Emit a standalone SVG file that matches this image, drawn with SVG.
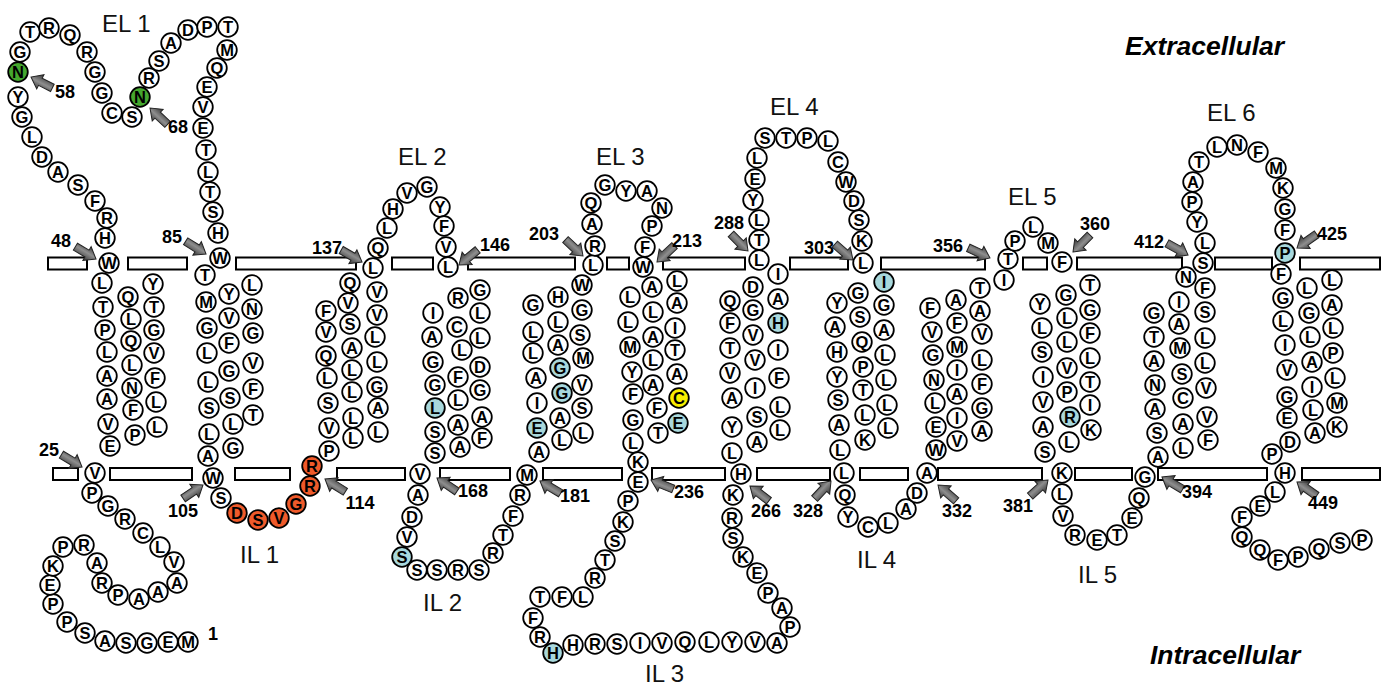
<svg xmlns="http://www.w3.org/2000/svg" xmlns:xlink="http://www.w3.org/1999/xlink" width="1382" height="685" viewBox="0 0 1382 685">
<style>
.r circle{fill:#fff;stroke:#000;stroke-width:1.8}
.r text{font-family:"Liberation Sans",Arial,sans-serif;font-weight:bold;font-size:16.5px;text-anchor:middle;fill:#000}
.gr circle{fill:#45a82e}
.or circle{fill:#ef5a2a}
.bl circle{fill:#a8d8dc}
.ye circle{fill:#f7ee00}
.bar{fill:#fff;stroke:#000;stroke-width:2}
.num{font-family:"Liberation Sans",Arial,sans-serif;font-weight:bold;font-size:18px;text-anchor:middle;fill:#000}
.lbl{font-family:"Liberation Sans",Arial,sans-serif;font-size:24px;fill:#111}
.side{font-family:"Liberation Sans",Arial,sans-serif;font-weight:bold;font-style:italic;font-size:26.5px;fill:#000}
.ptr{fill:url(#ag);stroke:#222;stroke-width:1}
</style>
<defs>
<linearGradient id="ag" x1="0" y1="0" x2="0" y2="1">
<stop offset="0" stop-color="#3e3e3e"/><stop offset="0.45" stop-color="#8e8e8e"/><stop offset="1" stop-color="#333"/>
</linearGradient>
<path id="ar" class="ptr" d="M0,0 L-10.5,-8 L-10.5,-4 L-24,-4 L-24,4 L-10.5,4 L-10.5,8 Z"/>
</defs>
<rect width="1382" height="685" fill="#fff"/>
<g id="membrane">
<rect class="bar" x="48" y="257.5" width="39" height="12"/>
<rect class="bar" x="128" y="257.5" width="59" height="12"/>
<rect class="bar" x="236" y="257.5" width="120" height="12"/>
<rect class="bar" x="392" y="257.5" width="41" height="12"/>
<rect class="bar" x="468" y="257.5" width="107" height="12"/>
<rect class="bar" x="607" y="257.5" width="22" height="12"/>
<rect class="bar" x="663" y="257.5" width="82" height="12"/>
<rect class="bar" x="790" y="257.5" width="58" height="12"/>
<rect class="bar" x="881" y="257.5" width="104" height="12"/>
<rect class="bar" x="1023" y="257.5" width="24" height="12"/>
<rect class="bar" x="1077" y="257.5" width="105" height="12"/>
<rect class="bar" x="1215" y="257.5" width="57" height="12"/>
<rect class="bar" x="1300" y="257.5" width="80" height="12"/>
<rect class="bar" x="53" y="468" width="25" height="12"/>
<rect class="bar" x="110" y="468" width="82" height="12"/>
<rect class="bar" x="235" y="468" width="55" height="12"/>
<rect class="bar" x="337" y="468" width="68" height="12"/>
<rect class="bar" x="440" y="468" width="70" height="12"/>
<rect class="bar" x="543" y="468" width="79" height="12"/>
<rect class="bar" x="652" y="468" width="73" height="12"/>
<rect class="bar" x="757" y="468" width="73" height="12"/>
<rect class="bar" x="860" y="468" width="48" height="12"/>
<rect class="bar" x="938" y="468" width="104" height="12"/>
<rect class="bar" x="1075" y="468" width="57" height="12"/>
<rect class="bar" x="1158" y="468" width="109" height="12"/>
<rect class="bar" x="1302" y="468" width="78" height="12"/>
</g>
<g id="connectors">
<use xlink:href="#ar" href="#ar" transform="translate(31,77) rotate(207)"/>
<use xlink:href="#ar" href="#ar" transform="translate(150,108) rotate(223)"/>
<use xlink:href="#ar" href="#ar" transform="translate(96,259) rotate(31)"/>
<use xlink:href="#ar" href="#ar" transform="translate(206,254) rotate(32)"/>
<use xlink:href="#ar" href="#ar" transform="translate(362,262) rotate(30)"/>
<use xlink:href="#ar" href="#ar" transform="translate(459,265) rotate(141)"/>
<use xlink:href="#ar" href="#ar" transform="translate(583,256) rotate(43)"/>
<use xlink:href="#ar" href="#ar" transform="translate(657,262) rotate(137)"/>
<use xlink:href="#ar" href="#ar" transform="translate(748,251) rotate(45)"/>
<use xlink:href="#ar" href="#ar" transform="translate(853,260) rotate(41)"/>
<use xlink:href="#ar" href="#ar" transform="translate(990,258) rotate(25)"/>
<use xlink:href="#ar" href="#ar" transform="translate(1073,252) rotate(135)"/>
<use xlink:href="#ar" href="#ar" transform="translate(1188,255) rotate(29)"/>
<use xlink:href="#ar" href="#ar" transform="translate(1297,248) rotate(145)"/>
<use xlink:href="#ar" href="#ar" transform="translate(82,467) rotate(31)"/>
<use xlink:href="#ar" href="#ar" transform="translate(203,485) rotate(-34)"/>
<use xlink:href="#ar" href="#ar" transform="translate(325,479) rotate(212)"/>
<use xlink:href="#ar" href="#ar" transform="translate(437,478) rotate(214)"/>
<use xlink:href="#ar" href="#ar" transform="translate(540,481) rotate(211)"/>
<use xlink:href="#ar" href="#ar" transform="translate(651,480) rotate(202)"/>
<use xlink:href="#ar" href="#ar" transform="translate(750,486) rotate(218)"/>
<use xlink:href="#ar" href="#ar" transform="translate(831,481) rotate(-47)"/>
<use xlink:href="#ar" href="#ar" transform="translate(938,485) rotate(221)"/>
<use xlink:href="#ar" href="#ar" transform="translate(1048,480) rotate(-42)"/>
<use xlink:href="#ar" href="#ar" transform="translate(1162,477) rotate(211)"/>
<use xlink:href="#ar" href="#ar" transform="translate(1297,482) rotate(215)"/>
</g>
<g id="numbers">
<text class="num" x="65" y="98">58</text>
<text class="num" x="178" y="133">68</text>
<text class="num" x="61" y="247">48</text>
<text class="num" x="172" y="243">85</text>
<text class="num" x="327" y="254">137</text>
<text class="num" x="495" y="251">146</text>
<text class="num" x="544" y="240">203</text>
<text class="num" x="687" y="247">213</text>
<text class="num" x="729" y="229">288</text>
<text class="num" x="819" y="254">303</text>
<text class="num" x="948" y="252">356</text>
<text class="num" x="1095" y="230">360</text>
<text class="num" x="1149" y="248">412</text>
<text class="num" x="1332" y="240">425</text>
<text class="num" x="49" y="456">25</text>
<text class="num" x="183" y="517">105</text>
<text class="num" x="360" y="509">114</text>
<text class="num" x="473" y="497">168</text>
<text class="num" x="575" y="502">181</text>
<text class="num" x="689" y="498">236</text>
<text class="num" x="766" y="517">266</text>
<text class="num" x="808" y="517">328</text>
<text class="num" x="957" y="517">332</text>
<text class="num" x="1018" y="512">381</text>
<text class="num" x="1197" y="498">394</text>
<text class="num" x="1323" y="509">449</text>
<text class="num" x="213" y="640">1</text>
</g>
<g id="labels">
<text class="lbl" x="102" y="32">EL 1</text>
<text class="lbl" x="398" y="165">EL 2</text>
<text class="lbl" x="596" y="165">EL 3</text>
<text class="lbl" x="770" y="115">EL 4</text>
<text class="lbl" x="1008" y="205">EL 5</text>
<text class="lbl" x="1207" y="121">EL 6</text>
<text class="lbl" x="240" y="563">IL 1</text>
<text class="lbl" x="423" y="611">IL 2</text>
<text class="lbl" x="645" y="682">IL 3</text>
<text class="lbl" x="857" y="568">IL 4</text>
<text class="lbl" x="1078" y="583">IL 5</text>
<text class="side" x="1125" y="55">Extracellular</text>
<text class="side" x="1150" y="664">Intracellular</text>
</g>
<g id="residues">
<g id="r1" class="r" transform="translate(188,642)"><circle r="9.8"/><text y="5.9">M</text></g>
<g id="r2" class="r" transform="translate(168,642)"><circle r="9.8"/><text y="5.9">E</text></g>
<g id="r3" class="r" transform="translate(147,643)"><circle r="9.8"/><text y="5.9">G</text></g>
<g id="r4" class="r" transform="translate(126,643)"><circle r="9.8"/><text y="5.9">S</text></g>
<g id="r5" class="r" transform="translate(105,641)"><circle r="9.8"/><text y="5.9">A</text></g>
<g id="r6" class="r" transform="translate(85,633)"><circle r="9.8"/><text y="5.9">S</text></g>
<g id="r7" class="r" transform="translate(67,622)"><circle r="9.8"/><text y="5.9">P</text></g>
<g id="r8" class="r" transform="translate(53,604)"><circle r="9.8"/><text y="5.9">P</text></g>
<g id="r9" class="r" transform="translate(50,585)"><circle r="9.8"/><text y="5.9">E</text></g>
<g id="r10" class="r" transform="translate(53,566)"><circle r="9.8"/><text y="5.9">K</text></g>
<g id="r11" class="r" transform="translate(63,547)"><circle r="9.8"/><text y="5.9">P</text></g>
<g id="r12" class="r" transform="translate(84,545)"><circle r="9.8"/><text y="5.9">R</text></g>
<g id="r13" class="r" transform="translate(97,563)"><circle r="9.8"/><text y="5.9">A</text></g>
<g id="r14" class="r" transform="translate(102,583)"><circle r="9.8"/><text y="5.9">R</text></g>
<g id="r15" class="r" transform="translate(118,595)"><circle r="9.8"/><text y="5.9">P</text></g>
<g id="r16" class="r" transform="translate(139,599)"><circle r="9.8"/><text y="5.9">A</text></g>
<g id="r17" class="r" transform="translate(158,592)"><circle r="9.8"/><text y="5.9">A</text></g>
<g id="r18" class="r" transform="translate(177,583)"><circle r="9.8"/><text y="5.9">A</text></g>
<g id="r19" class="r" transform="translate(174,562)"><circle r="9.8"/><text y="5.9">V</text></g>
<g id="r20" class="r" transform="translate(160,547)"><circle r="9.8"/><text y="5.9">L</text></g>
<g id="r21" class="r" transform="translate(143,533)"><circle r="9.8"/><text y="5.9">C</text></g>
<g id="r22" class="r" transform="translate(125,519)"><circle r="9.8"/><text y="5.9">R</text></g>
<g id="r23" class="r" transform="translate(108,506)"><circle r="9.8"/><text y="5.9">G</text></g>
<g id="r24" class="r" transform="translate(92,493)"><circle r="9.8"/><text y="5.9">P</text></g>
<g id="r25" class="r" transform="translate(95,473)"><circle r="9.8"/><text y="5.9">V</text></g>
<g id="r26" class="r" transform="translate(110,446)"><circle r="9.8"/><text y="5.9">E</text></g>
<g id="r27" class="r" transform="translate(108,424)"><circle r="9.8"/><text y="5.9">V</text></g>
<g id="r28" class="r" transform="translate(107,399)"><circle r="9.8"/><text y="5.9">A</text></g>
<g id="r29" class="r" transform="translate(107,376)"><circle r="9.8"/><text y="5.9">A</text></g>
<g id="r30" class="r" transform="translate(107,352)"><circle r="9.8"/><text y="5.9">L</text></g>
<g id="r31" class="r" transform="translate(105,330)"><circle r="9.8"/><text y="5.9">P</text></g>
<g id="r32" class="r" transform="translate(103,307)"><circle r="9.8"/><text y="5.9">T</text></g>
<g id="r33" class="r" transform="translate(102,283)"><circle r="9.8"/><text y="5.9">L</text></g>
<g id="r34" class="r" transform="translate(135,435)"><circle r="9.8"/><text y="5.9">P</text></g>
<g id="r35" class="r" transform="translate(133,410)"><circle r="9.8"/><text y="5.9">F</text></g>
<g id="r36" class="r" transform="translate(132,388)"><circle r="9.8"/><text y="5.9">N</text></g>
<g id="r37" class="r" transform="translate(132,365)"><circle r="9.8"/><text y="5.9">L</text></g>
<g id="r38" class="r" transform="translate(131,341)"><circle r="9.8"/><text y="5.9">Q</text></g>
<g id="r39" class="r" transform="translate(131,319)"><circle r="9.8"/><text y="5.9">L</text></g>
<g id="r40" class="r" transform="translate(128,297)"><circle r="9.8"/><text y="5.9">Q</text></g>
<g id="r41" class="r" transform="translate(157,427)"><circle r="9.8"/><text y="5.9">L</text></g>
<g id="r42" class="r" transform="translate(156,402)"><circle r="9.8"/><text y="5.9">L</text></g>
<g id="r43" class="r" transform="translate(155,378)"><circle r="9.8"/><text y="5.9">F</text></g>
<g id="r44" class="r" transform="translate(154,353)"><circle r="9.8"/><text y="5.9">V</text></g>
<g id="r45" class="r" transform="translate(154,330)"><circle r="9.8"/><text y="5.9">G</text></g>
<g id="r46" class="r" transform="translate(154,307)"><circle r="9.8"/><text y="5.9">T</text></g>
<g id="r47" class="r" transform="translate(153,284)"><circle r="9.8"/><text y="5.9">Y</text></g>
<g id="r48" class="r" transform="translate(109,263)"><circle r="9.8"/><text y="5.9">W</text></g>
<g id="r49" class="r" transform="translate(105,238)"><circle r="9.8"/><text y="5.9">H</text></g>
<g id="r50" class="r" transform="translate(107,218)"><circle r="9.8"/><text y="5.9">R</text></g>
<g id="r51" class="r" transform="translate(95,201)"><circle r="9.8"/><text y="5.9">F</text></g>
<g id="r52" class="r" transform="translate(78,185)"><circle r="9.8"/><text y="5.9">S</text></g>
<g id="r53" class="r" transform="translate(58,172)"><circle r="9.8"/><text y="5.9">A</text></g>
<g id="r54" class="r" transform="translate(42,157)"><circle r="9.8"/><text y="5.9">D</text></g>
<g id="r55" class="r" transform="translate(32,137)"><circle r="9.8"/><text y="5.9">L</text></g>
<g id="r56" class="r" transform="translate(22,117)"><circle r="9.8"/><text y="5.9">G</text></g>
<g id="r57" class="r" transform="translate(18,97)"><circle r="9.8"/><text y="5.9">Y</text></g>
<g id="r58" class="r gr" transform="translate(18,72)"><circle r="9.8"/><text y="5.9">N</text></g>
<g id="r59" class="r" transform="translate(20,52)"><circle r="9.8"/><text y="5.9">G</text></g>
<g id="r60" class="r" transform="translate(30,32)"><circle r="9.8"/><text y="5.9">T</text></g>
<g id="r61" class="r" transform="translate(49,28)"><circle r="9.8"/><text y="5.9">R</text></g>
<g id="r62" class="r" transform="translate(70,35)"><circle r="9.8"/><text y="5.9">Q</text></g>
<g id="r63" class="r" transform="translate(87,52)"><circle r="9.8"/><text y="5.9">R</text></g>
<g id="r64" class="r" transform="translate(95,72)"><circle r="9.8"/><text y="5.9">G</text></g>
<g id="r65" class="r" transform="translate(102,93)"><circle r="9.8"/><text y="5.9">G</text></g>
<g id="r66" class="r" transform="translate(112,113)"><circle r="9.8"/><text y="5.9">C</text></g>
<g id="r67" class="r" transform="translate(132,117)"><circle r="9.8"/><text y="5.9">S</text></g>
<g id="r68" class="r gr" transform="translate(140,97)"><circle r="9.8"/><text y="5.9">N</text></g>
<g id="r69" class="r" transform="translate(149,78)"><circle r="9.8"/><text y="5.9">R</text></g>
<g id="r70" class="r" transform="translate(159,61)"><circle r="9.8"/><text y="5.9">S</text></g>
<g id="r71" class="r" transform="translate(171,43)"><circle r="9.8"/><text y="5.9">A</text></g>
<g id="r72" class="r" transform="translate(188,30)"><circle r="9.8"/><text y="5.9">D</text></g>
<g id="r73" class="r" transform="translate(207,27)"><circle r="9.8"/><text y="5.9">P</text></g>
<g id="r74" class="r" transform="translate(228,27)"><circle r="9.8"/><text y="5.9">T</text></g>
<g id="r75" class="r" transform="translate(227,50)"><circle r="9.8"/><text y="5.9">M</text></g>
<g id="r76" class="r" transform="translate(217,68)"><circle r="9.8"/><text y="5.9">Q</text></g>
<g id="r77" class="r" transform="translate(207,87)"><circle r="9.8"/><text y="5.9">E</text></g>
<g id="r78" class="r" transform="translate(203,107)"><circle r="9.8"/><text y="5.9">V</text></g>
<g id="r79" class="r" transform="translate(203,128)"><circle r="9.8"/><text y="5.9">E</text></g>
<g id="r80" class="r" transform="translate(206,150)"><circle r="9.8"/><text y="5.9">T</text></g>
<g id="r81" class="r" transform="translate(208,172)"><circle r="9.8"/><text y="5.9">L</text></g>
<g id="r82" class="r" transform="translate(210,192)"><circle r="9.8"/><text y="5.9">T</text></g>
<g id="r83" class="r" transform="translate(213,212)"><circle r="9.8"/><text y="5.9">S</text></g>
<g id="r84" class="r" transform="translate(218,233)"><circle r="9.8"/><text y="5.9">H</text></g>
<g id="r85" class="r" transform="translate(220,258)"><circle r="9.8"/><text y="5.9">W</text></g>
<g id="r86" class="r" transform="translate(205,275)"><circle r="9.8"/><text y="5.9">T</text></g>
<g id="r87" class="r" transform="translate(206,302)"><circle r="9.8"/><text y="5.9">M</text></g>
<g id="r88" class="r" transform="translate(207,328)"><circle r="9.8"/><text y="5.9">G</text></g>
<g id="r89" class="r" transform="translate(207,353)"><circle r="9.8"/><text y="5.9">L</text></g>
<g id="r90" class="r" transform="translate(208,382)"><circle r="9.8"/><text y="5.9">L</text></g>
<g id="r91" class="r" transform="translate(209,408)"><circle r="9.8"/><text y="5.9">S</text></g>
<g id="r92" class="r" transform="translate(209,434)"><circle r="9.8"/><text y="5.9">L</text></g>
<g id="r93" class="r" transform="translate(208,456)"><circle r="9.8"/><text y="5.9">A</text></g>
<g id="r94" class="r" transform="translate(229,294)"><circle r="9.8"/><text y="5.9">Y</text></g>
<g id="r95" class="r" transform="translate(229,318)"><circle r="9.8"/><text y="5.9">V</text></g>
<g id="r96" class="r" transform="translate(229,343)"><circle r="9.8"/><text y="5.9">F</text></g>
<g id="r97" class="r" transform="translate(229,371)"><circle r="9.8"/><text y="5.9">G</text></g>
<g id="r98" class="r" transform="translate(230,398)"><circle r="9.8"/><text y="5.9">S</text></g>
<g id="r99" class="r" transform="translate(233,424)"><circle r="9.8"/><text y="5.9">L</text></g>
<g id="r100" class="r" transform="translate(233,448)"><circle r="9.8"/><text y="5.9">G</text></g>
<g id="r101" class="r" transform="translate(252,285)"><circle r="9.8"/><text y="5.9">L</text></g>
<g id="r102" class="r" transform="translate(252,309)"><circle r="9.8"/><text y="5.9">N</text></g>
<g id="r103" class="r" transform="translate(253,333)"><circle r="9.8"/><text y="5.9">G</text></g>
<g id="r104" class="r" transform="translate(253,363)"><circle r="9.8"/><text y="5.9">V</text></g>
<g id="r105" class="r" transform="translate(253,389)"><circle r="9.8"/><text y="5.9">F</text></g>
<g id="r106" class="r" transform="translate(253,415)"><circle r="9.8"/><text y="5.9">T</text></g>
<g id="r107" class="r" transform="translate(213,478)"><circle r="9.8"/><text y="5.9">W</text></g>
<g id="r108" class="r" transform="translate(221,498)"><circle r="9.8"/><text y="5.9">S</text></g>
<g id="r109" class="r or" transform="translate(237,513)"><circle r="9.8"/><text y="5.9">D</text></g>
<g id="r110" class="r or" transform="translate(258,520)"><circle r="9.8"/><text y="5.9">S</text></g>
<g id="r111" class="r or" transform="translate(279,518)"><circle r="9.8"/><text y="5.9">V</text></g>
<g id="r112" class="r or" transform="translate(296,504)"><circle r="9.8"/><text y="5.9">G</text></g>
<g id="r113" class="r or" transform="translate(310,486)"><circle r="9.8"/><text y="5.9">R</text></g>
<g id="r114" class="r or" transform="translate(312,466)"><circle r="9.8"/><text y="5.9">R</text></g>
<g id="r115" class="r" transform="translate(329,451)"><circle r="9.8"/><text y="5.9">P</text></g>
<g id="r116" class="r" transform="translate(329,428)"><circle r="9.8"/><text y="5.9">V</text></g>
<g id="r117" class="r" transform="translate(328,403)"><circle r="9.8"/><text y="5.9">S</text></g>
<g id="r118" class="r" transform="translate(327,378)"><circle r="9.8"/><text y="5.9">L</text></g>
<g id="r119" class="r" transform="translate(326,356)"><circle r="9.8"/><text y="5.9">Q</text></g>
<g id="r120" class="r" transform="translate(326,332)"><circle r="9.8"/><text y="5.9">V</text></g>
<g id="r121" class="r" transform="translate(326,311)"><circle r="9.8"/><text y="5.9">F</text></g>
<g id="r122" class="r" transform="translate(353,438)"><circle r="9.8"/><text y="5.9">L</text></g>
<g id="r123" class="r" transform="translate(353,418)"><circle r="9.8"/><text y="5.9">L</text></g>
<g id="r124" class="r" transform="translate(352,392)"><circle r="9.8"/><text y="5.9">L</text></g>
<g id="r125" class="r" transform="translate(352,370)"><circle r="9.8"/><text y="5.9">L</text></g>
<g id="r126" class="r" transform="translate(352,348)"><circle r="9.8"/><text y="5.9">A</text></g>
<g id="r127" class="r" transform="translate(350,324)"><circle r="9.8"/><text y="5.9">S</text></g>
<g id="r128" class="r" transform="translate(348,303)"><circle r="9.8"/><text y="5.9">V</text></g>
<g id="r129" class="r" transform="translate(350,283)"><circle r="9.8"/><text y="5.9">Q</text></g>
<g id="r130" class="r" transform="translate(378,432)"><circle r="9.8"/><text y="5.9">L</text></g>
<g id="r131" class="r" transform="translate(378,408)"><circle r="9.8"/><text y="5.9">A</text></g>
<g id="r132" class="r" transform="translate(377,387)"><circle r="9.8"/><text y="5.9">G</text></g>
<g id="r133" class="r" transform="translate(377,362)"><circle r="9.8"/><text y="5.9">L</text></g>
<g id="r134" class="r" transform="translate(375,337)"><circle r="9.8"/><text y="5.9">L</text></g>
<g id="r135" class="r" transform="translate(377,315)"><circle r="9.8"/><text y="5.9">V</text></g>
<g id="r136" class="r" transform="translate(377,292)"><circle r="9.8"/><text y="5.9">V</text></g>
<g id="r137" class="r" transform="translate(373,268)"><circle r="9.8"/><text y="5.9">L</text></g>
<g id="r138" class="r" transform="translate(378,248)"><circle r="9.8"/><text y="5.9">Q</text></g>
<g id="r139" class="r" transform="translate(387,228)"><circle r="9.8"/><text y="5.9">L</text></g>
<g id="r140" class="r" transform="translate(393,209)"><circle r="9.8"/><text y="5.9">H</text></g>
<g id="r141" class="r" transform="translate(407,193)"><circle r="9.8"/><text y="5.9">V</text></g>
<g id="r142" class="r" transform="translate(427,187)"><circle r="9.8"/><text y="5.9">G</text></g>
<g id="r143" class="r" transform="translate(440,207)"><circle r="9.8"/><text y="5.9">Y</text></g>
<g id="r144" class="r" transform="translate(444,226)"><circle r="9.8"/><text y="5.9">F</text></g>
<g id="r145" class="r" transform="translate(446,247)"><circle r="9.8"/><text y="5.9">V</text></g>
<g id="r146" class="r" transform="translate(448,267)"><circle r="9.8"/><text y="5.9">L</text></g>
<g id="r147" class="r" transform="translate(433,313)"><circle r="9.8"/><text y="5.9">I</text></g>
<g id="r148" class="r" transform="translate(432,337)"><circle r="9.8"/><text y="5.9">A</text></g>
<g id="r149" class="r" transform="translate(433,362)"><circle r="9.8"/><text y="5.9">G</text></g>
<g id="r150" class="r" transform="translate(435,385)"><circle r="9.8"/><text y="5.9">G</text></g>
<g id="r151" class="r bl" transform="translate(435,408)"><circle r="9.8"/><text y="5.9">L</text></g>
<g id="r152" class="r" transform="translate(435,432)"><circle r="9.8"/><text y="5.9">S</text></g>
<g id="r153" class="r" transform="translate(435,453)"><circle r="9.8"/><text y="5.9">S</text></g>
<g id="r154" class="r" transform="translate(458,298)"><circle r="9.8"/><text y="5.9">R</text></g>
<g id="r155" class="r" transform="translate(457,327)"><circle r="9.8"/><text y="5.9">C</text></g>
<g id="r156" class="r" transform="translate(462,350)"><circle r="9.8"/><text y="5.9">L</text></g>
<g id="r157" class="r" transform="translate(458,377)"><circle r="9.8"/><text y="5.9">F</text></g>
<g id="r158" class="r" transform="translate(458,400)"><circle r="9.8"/><text y="5.9">L</text></g>
<g id="r159" class="r" transform="translate(458,425)"><circle r="9.8"/><text y="5.9">A</text></g>
<g id="r160" class="r" transform="translate(460,447)"><circle r="9.8"/><text y="5.9">A</text></g>
<g id="r161" class="r" transform="translate(480,290)"><circle r="9.8"/><text y="5.9">G</text></g>
<g id="r162" class="r" transform="translate(480,313)"><circle r="9.8"/><text y="5.9">L</text></g>
<g id="r163" class="r" transform="translate(480,338)"><circle r="9.8"/><text y="5.9">L</text></g>
<g id="r164" class="r" transform="translate(480,367)"><circle r="9.8"/><text y="5.9">D</text></g>
<g id="r165" class="r" transform="translate(480,390)"><circle r="9.8"/><text y="5.9">G</text></g>
<g id="r166" class="r" transform="translate(482,417)"><circle r="9.8"/><text y="5.9">A</text></g>
<g id="r167" class="r" transform="translate(482,438)"><circle r="9.8"/><text y="5.9">F</text></g>
<g id="r168" class="r" transform="translate(420,474)"><circle r="9.8"/><text y="5.9">V</text></g>
<g id="r169" class="r" transform="translate(418,495)"><circle r="9.8"/><text y="5.9">A</text></g>
<g id="r170" class="r" transform="translate(412,517)"><circle r="9.8"/><text y="5.9">D</text></g>
<g id="r171" class="r" transform="translate(407,537)"><circle r="9.8"/><text y="5.9">V</text></g>
<g id="r172" class="r bl" transform="translate(402,557)"><circle r="9.8"/><text y="5.9">S</text></g>
<g id="r173" class="r" transform="translate(417,570)"><circle r="9.8"/><text y="5.9">S</text></g>
<g id="r174" class="r" transform="translate(437,570)"><circle r="9.8"/><text y="5.9">S</text></g>
<g id="r175" class="r" transform="translate(458,570)"><circle r="9.8"/><text y="5.9">R</text></g>
<g id="r176" class="r" transform="translate(479,570)"><circle r="9.8"/><text y="5.9">S</text></g>
<g id="r177" class="r" transform="translate(493,553)"><circle r="9.8"/><text y="5.9">R</text></g>
<g id="r178" class="r" transform="translate(503,535)"><circle r="9.8"/><text y="5.9">T</text></g>
<g id="r179" class="r" transform="translate(513,516)"><circle r="9.8"/><text y="5.9">F</text></g>
<g id="r180" class="r" transform="translate(520,495)"><circle r="9.8"/><text y="5.9">R</text></g>
<g id="r181" class="r" transform="translate(527,475)"><circle r="9.8"/><text y="5.9">M</text></g>
<g id="r182" class="r" transform="translate(533,305)"><circle r="9.8"/><text y="5.9">G</text></g>
<g id="r183" class="r" transform="translate(533,332)"><circle r="9.8"/><text y="5.9">L</text></g>
<g id="r184" class="r" transform="translate(533,353)"><circle r="9.8"/><text y="5.9">L</text></g>
<g id="r185" class="r" transform="translate(536,378)"><circle r="9.8"/><text y="5.9">A</text></g>
<g id="r186" class="r" transform="translate(537,403)"><circle r="9.8"/><text y="5.9">I</text></g>
<g id="r187" class="r bl" transform="translate(537,428)"><circle r="9.8"/><text y="5.9">E</text></g>
<g id="r188" class="r" transform="translate(539,452)"><circle r="9.8"/><text y="5.9">A</text></g>
<g id="r189" class="r" transform="translate(558,297)"><circle r="9.8"/><text y="5.9">H</text></g>
<g id="r190" class="r" transform="translate(558,322)"><circle r="9.8"/><text y="5.9">L</text></g>
<g id="r191" class="r" transform="translate(558,345)"><circle r="9.8"/><text y="5.9">A</text></g>
<g id="r192" class="r bl" transform="translate(560,368)"><circle r="9.8"/><text y="5.9">G</text></g>
<g id="r193" class="r bl" transform="translate(562,393)"><circle r="9.8"/><text y="5.9">G</text></g>
<g id="r194" class="r" transform="translate(560,418)"><circle r="9.8"/><text y="5.9">A</text></g>
<g id="r195" class="r" transform="translate(562,440)"><circle r="9.8"/><text y="5.9">L</text></g>
<g id="r196" class="r" transform="translate(582,285)"><circle r="9.8"/><text y="5.9">W</text></g>
<g id="r197" class="r" transform="translate(582,310)"><circle r="9.8"/><text y="5.9">G</text></g>
<g id="r198" class="r" transform="translate(580,335)"><circle r="9.8"/><text y="5.9">S</text></g>
<g id="r199" class="r" transform="translate(583,358)"><circle r="9.8"/><text y="5.9">M</text></g>
<g id="r200" class="r" transform="translate(582,385)"><circle r="9.8"/><text y="5.9">V</text></g>
<g id="r201" class="r" transform="translate(582,408)"><circle r="9.8"/><text y="5.9">S</text></g>
<g id="r202" class="r" transform="translate(583,433)"><circle r="9.8"/><text y="5.9">L</text></g>
<g id="r203" class="r" transform="translate(593,265)"><circle r="9.8"/><text y="5.9">L</text></g>
<g id="r204" class="r" transform="translate(595,246)"><circle r="9.8"/><text y="5.9">R</text></g>
<g id="r205" class="r" transform="translate(592,224)"><circle r="9.8"/><text y="5.9">A</text></g>
<g id="r206" class="r" transform="translate(591,203)"><circle r="9.8"/><text y="5.9">Q</text></g>
<g id="r207" class="r" transform="translate(605,185)"><circle r="9.8"/><text y="5.9">G</text></g>
<g id="r208" class="r" transform="translate(626,191)"><circle r="9.8"/><text y="5.9">Y</text></g>
<g id="r209" class="r" transform="translate(647,191)"><circle r="9.8"/><text y="5.9">A</text></g>
<g id="r210" class="r" transform="translate(662,208)"><circle r="9.8"/><text y="5.9">N</text></g>
<g id="r211" class="r" transform="translate(652,226)"><circle r="9.8"/><text y="5.9">P</text></g>
<g id="r212" class="r" transform="translate(645,247)"><circle r="9.8"/><text y="5.9">F</text></g>
<g id="r213" class="r" transform="translate(643,267)"><circle r="9.8"/><text y="5.9">W</text></g>
<g id="r214" class="r" transform="translate(630,297)"><circle r="9.8"/><text y="5.9">L</text></g>
<g id="r215" class="r" transform="translate(628,322)"><circle r="9.8"/><text y="5.9">L</text></g>
<g id="r216" class="r" transform="translate(630,347)"><circle r="9.8"/><text y="5.9">M</text></g>
<g id="r217" class="r" transform="translate(632,372)"><circle r="9.8"/><text y="5.9">Y</text></g>
<g id="r218" class="r" transform="translate(633,394)"><circle r="9.8"/><text y="5.9">F</text></g>
<g id="r219" class="r" transform="translate(633,420)"><circle r="9.8"/><text y="5.9">G</text></g>
<g id="r220" class="r" transform="translate(633,443)"><circle r="9.8"/><text y="5.9">L</text></g>
<g id="r221" class="r" transform="translate(638,462)"><circle r="9.8"/><text y="5.9">K</text></g>
<g id="r222" class="r" transform="translate(652,287)"><circle r="9.8"/><text y="5.9">A</text></g>
<g id="r223" class="r" transform="translate(653,312)"><circle r="9.8"/><text y="5.9">L</text></g>
<g id="r224" class="r" transform="translate(653,337)"><circle r="9.8"/><text y="5.9">A</text></g>
<g id="r225" class="r" transform="translate(653,360)"><circle r="9.8"/><text y="5.9">L</text></g>
<g id="r226" class="r" transform="translate(653,385)"><circle r="9.8"/><text y="5.9">A</text></g>
<g id="r227" class="r" transform="translate(657,408)"><circle r="9.8"/><text y="5.9">F</text></g>
<g id="r228" class="r" transform="translate(658,433)"><circle r="9.8"/><text y="5.9">T</text></g>
<g id="r229" class="r" transform="translate(677,281)"><circle r="9.8"/><text y="5.9">L</text></g>
<g id="r230" class="r" transform="translate(677,303)"><circle r="9.8"/><text y="5.9">A</text></g>
<g id="r231" class="r" transform="translate(675,328)"><circle r="9.8"/><text y="5.9">I</text></g>
<g id="r232" class="r" transform="translate(675,350)"><circle r="9.8"/><text y="5.9">T</text></g>
<g id="r233" class="r" transform="translate(677,374)"><circle r="9.8"/><text y="5.9">A</text></g>
<g id="r234" class="r ye" transform="translate(679,398)"><circle r="9.8"/><text y="5.9">C</text></g>
<g id="r235" class="r bl" transform="translate(678,423)"><circle r="9.8"/><text y="5.9">E</text></g>
<g id="r236" class="r" transform="translate(638,482)"><circle r="9.8"/><text y="5.9">E</text></g>
<g id="r237" class="r" transform="translate(628,501)"><circle r="9.8"/><text y="5.9">P</text></g>
<g id="r238" class="r" transform="translate(623,522)"><circle r="9.8"/><text y="5.9">K</text></g>
<g id="r239" class="r" transform="translate(615,541)"><circle r="9.8"/><text y="5.9">S</text></g>
<g id="r240" class="r" transform="translate(605,560)"><circle r="9.8"/><text y="5.9">T</text></g>
<g id="r241" class="r" transform="translate(595,578)"><circle r="9.8"/><text y="5.9">R</text></g>
<g id="r242" class="r" transform="translate(583,597)"><circle r="9.8"/><text y="5.9">L</text></g>
<g id="r243" class="r" transform="translate(562,597)"><circle r="9.8"/><text y="5.9">F</text></g>
<g id="r244" class="r" transform="translate(540,597)"><circle r="9.8"/><text y="5.9">T</text></g>
<g id="r245" class="r" transform="translate(533,618)"><circle r="9.8"/><text y="5.9">F</text></g>
<g id="r246" class="r" transform="translate(540,637)"><circle r="9.8"/><text y="5.9">R</text></g>
<g id="r247" class="r bl" transform="translate(553,653)"><circle r="9.8"/><text y="5.9">H</text></g>
<g id="r248" class="r" transform="translate(573,645)"><circle r="9.8"/><text y="5.9">H</text></g>
<g id="r249" class="r" transform="translate(595,644)"><circle r="9.8"/><text y="5.9">R</text></g>
<g id="r250" class="r" transform="translate(617,644)"><circle r="9.8"/><text y="5.9">S</text></g>
<g id="r251" class="r" transform="translate(640,643)"><circle r="9.8"/><text y="5.9">I</text></g>
<g id="r252" class="r" transform="translate(662,643)"><circle r="9.8"/><text y="5.9">V</text></g>
<g id="r253" class="r" transform="translate(685,642)"><circle r="9.8"/><text y="5.9">Q</text></g>
<g id="r254" class="r" transform="translate(709,642)"><circle r="9.8"/><text y="5.9">L</text></g>
<g id="r255" class="r" transform="translate(732,642)"><circle r="9.8"/><text y="5.9">Y</text></g>
<g id="r256" class="r" transform="translate(755,642)"><circle r="9.8"/><text y="5.9">V</text></g>
<g id="r257" class="r" transform="translate(777,643)"><circle r="9.8"/><text y="5.9">A</text></g>
<g id="r258" class="r" transform="translate(790,627)"><circle r="9.8"/><text y="5.9">P</text></g>
<g id="r259" class="r" transform="translate(782,608)"><circle r="9.8"/><text y="5.9">A</text></g>
<g id="r260" class="r" transform="translate(768,593)"><circle r="9.8"/><text y="5.9">P</text></g>
<g id="r261" class="r" transform="translate(757,573)"><circle r="9.8"/><text y="5.9">E</text></g>
<g id="r262" class="r" transform="translate(743,557)"><circle r="9.8"/><text y="5.9">K</text></g>
<g id="r263" class="r" transform="translate(733,538)"><circle r="9.8"/><text y="5.9">S</text></g>
<g id="r264" class="r" transform="translate(732,518)"><circle r="9.8"/><text y="5.9">R</text></g>
<g id="r265" class="r" transform="translate(733,495)"><circle r="9.8"/><text y="5.9">K</text></g>
<g id="r266" class="r" transform="translate(741,474)"><circle r="9.8"/><text y="5.9">H</text></g>
<g id="r267" class="r" transform="translate(732,453)"><circle r="9.8"/><text y="5.9">L</text></g>
<g id="r268" class="r" transform="translate(732,427)"><circle r="9.8"/><text y="5.9">Y</text></g>
<g id="r269" class="r" transform="translate(732,398)"><circle r="9.8"/><text y="5.9">A</text></g>
<g id="r270" class="r" transform="translate(730,373)"><circle r="9.8"/><text y="5.9">V</text></g>
<g id="r271" class="r" transform="translate(730,348)"><circle r="9.8"/><text y="5.9">T</text></g>
<g id="r272" class="r" transform="translate(730,323)"><circle r="9.8"/><text y="5.9">F</text></g>
<g id="r273" class="r" transform="translate(730,301)"><circle r="9.8"/><text y="5.9">Q</text></g>
<g id="r274" class="r" transform="translate(757,442)"><circle r="9.8"/><text y="5.9">A</text></g>
<g id="r275" class="r" transform="translate(757,417)"><circle r="9.8"/><text y="5.9">S</text></g>
<g id="r276" class="r" transform="translate(755,388)"><circle r="9.8"/><text y="5.9">I</text></g>
<g id="r277" class="r" transform="translate(755,360)"><circle r="9.8"/><text y="5.9">V</text></g>
<g id="r278" class="r" transform="translate(753,335)"><circle r="9.8"/><text y="5.9">V</text></g>
<g id="r279" class="r" transform="translate(753,310)"><circle r="9.8"/><text y="5.9">G</text></g>
<g id="r280" class="r" transform="translate(753,287)"><circle r="9.8"/><text y="5.9">D</text></g>
<g id="r281" class="r" transform="translate(780,430)"><circle r="9.8"/><text y="5.9">L</text></g>
<g id="r282" class="r" transform="translate(780,407)"><circle r="9.8"/><text y="5.9">L</text></g>
<g id="r283" class="r" transform="translate(779,378)"><circle r="9.8"/><text y="5.9">F</text></g>
<g id="r284" class="r" transform="translate(778,350)"><circle r="9.8"/><text y="5.9">I</text></g>
<g id="r285" class="r bl" transform="translate(778,323)"><circle r="9.8"/><text y="5.9">H</text></g>
<g id="r286" class="r" transform="translate(778,299)"><circle r="9.8"/><text y="5.9">A</text></g>
<g id="r287" class="r" transform="translate(778,274)"><circle r="9.8"/><text y="5.9">I</text></g>
<g id="r288" class="r" transform="translate(759,260)"><circle r="9.8"/><text y="5.9">L</text></g>
<g id="r289" class="r" transform="translate(759,240)"><circle r="9.8"/><text y="5.9">T</text></g>
<g id="r290" class="r" transform="translate(759,220)"><circle r="9.8"/><text y="5.9">L</text></g>
<g id="r291" class="r" transform="translate(753,200)"><circle r="9.8"/><text y="5.9">Y</text></g>
<g id="r292" class="r" transform="translate(755,179)"><circle r="9.8"/><text y="5.9">E</text></g>
<g id="r293" class="r" transform="translate(757,158)"><circle r="9.8"/><text y="5.9">L</text></g>
<g id="r294" class="r" transform="translate(765,138)"><circle r="9.8"/><text y="5.9">S</text></g>
<g id="r295" class="r" transform="translate(786,138)"><circle r="9.8"/><text y="5.9">T</text></g>
<g id="r296" class="r" transform="translate(807,138)"><circle r="9.8"/><text y="5.9">P</text></g>
<g id="r297" class="r" transform="translate(828,141)"><circle r="9.8"/><text y="5.9">L</text></g>
<g id="r298" class="r" transform="translate(838,162)"><circle r="9.8"/><text y="5.9">C</text></g>
<g id="r299" class="r" transform="translate(846,182)"><circle r="9.8"/><text y="5.9">W</text></g>
<g id="r300" class="r" transform="translate(854,201)"><circle r="9.8"/><text y="5.9">D</text></g>
<g id="r301" class="r" transform="translate(859,220)"><circle r="9.8"/><text y="5.9">S</text></g>
<g id="r302" class="r" transform="translate(862,241)"><circle r="9.8"/><text y="5.9">K</text></g>
<g id="r303" class="r" transform="translate(863,263)"><circle r="9.8"/><text y="5.9">L</text></g>
<g id="r304" class="r bl" transform="translate(884,282)"><circle r="9.8"/><text y="5.9">I</text></g>
<g id="r305" class="r" transform="translate(884,305)"><circle r="9.8"/><text y="5.9">G</text></g>
<g id="r306" class="r" transform="translate(884,330)"><circle r="9.8"/><text y="5.9">A</text></g>
<g id="r307" class="r" transform="translate(885,355)"><circle r="9.8"/><text y="5.9">L</text></g>
<g id="r308" class="r" transform="translate(886,380)"><circle r="9.8"/><text y="5.9">L</text></g>
<g id="r309" class="r" transform="translate(887,405)"><circle r="9.8"/><text y="5.9">L</text></g>
<g id="r310" class="r" transform="translate(888,428)"><circle r="9.8"/><text y="5.9">L</text></g>
<g id="r311" class="r" transform="translate(858,293)"><circle r="9.8"/><text y="5.9">G</text></g>
<g id="r312" class="r" transform="translate(860,317)"><circle r="9.8"/><text y="5.9">S</text></g>
<g id="r313" class="r" transform="translate(862,342)"><circle r="9.8"/><text y="5.9">Q</text></g>
<g id="r314" class="r" transform="translate(863,367)"><circle r="9.8"/><text y="5.9">P</text></g>
<g id="r315" class="r" transform="translate(863,390)"><circle r="9.8"/><text y="5.9">T</text></g>
<g id="r316" class="r" transform="translate(865,415)"><circle r="9.8"/><text y="5.9">L</text></g>
<g id="r317" class="r" transform="translate(865,440)"><circle r="9.8"/><text y="5.9">K</text></g>
<g id="r318" class="r" transform="translate(837,303)"><circle r="9.8"/><text y="5.9">Y</text></g>
<g id="r319" class="r" transform="translate(835,327)"><circle r="9.8"/><text y="5.9">A</text></g>
<g id="r320" class="r" transform="translate(837,352)"><circle r="9.8"/><text y="5.9">H</text></g>
<g id="r321" class="r" transform="translate(837,377)"><circle r="9.8"/><text y="5.9">Y</text></g>
<g id="r322" class="r" transform="translate(838,400)"><circle r="9.8"/><text y="5.9">S</text></g>
<g id="r323" class="r" transform="translate(839,425)"><circle r="9.8"/><text y="5.9">A</text></g>
<g id="r324" class="r" transform="translate(840,450)"><circle r="9.8"/><text y="5.9">L</text></g>
<g id="r325" class="r" transform="translate(844,473)"><circle r="9.8"/><text y="5.9">L</text></g>
<g id="r326" class="r" transform="translate(845,495)"><circle r="9.8"/><text y="5.9">Q</text></g>
<g id="r327" class="r" transform="translate(848,517)"><circle r="9.8"/><text y="5.9">Y</text></g>
<g id="r328" class="r" transform="translate(868,527)"><circle r="9.8"/><text y="5.9">C</text></g>
<g id="r329" class="r" transform="translate(888,523)"><circle r="9.8"/><text y="5.9">L</text></g>
<g id="r330" class="r" transform="translate(906,509)"><circle r="9.8"/><text y="5.9">A</text></g>
<g id="r331" class="r" transform="translate(917,493)"><circle r="9.8"/><text y="5.9">D</text></g>
<g id="r332" class="r" transform="translate(927,473)"><circle r="9.8"/><text y="5.9">A</text></g>
<g id="r333" class="r" transform="translate(936,450)"><circle r="9.8"/><text y="5.9">W</text></g>
<g id="r334" class="r" transform="translate(936,427)"><circle r="9.8"/><text y="5.9">E</text></g>
<g id="r335" class="r" transform="translate(935,403)"><circle r="9.8"/><text y="5.9">L</text></g>
<g id="r336" class="r" transform="translate(934,380)"><circle r="9.8"/><text y="5.9">N</text></g>
<g id="r337" class="r" transform="translate(933,355)"><circle r="9.8"/><text y="5.9">G</text></g>
<g id="r338" class="r" transform="translate(932,332)"><circle r="9.8"/><text y="5.9">V</text></g>
<g id="r339" class="r" transform="translate(930,308)"><circle r="9.8"/><text y="5.9">F</text></g>
<g id="r340" class="r" transform="translate(957,441)"><circle r="9.8"/><text y="5.9">V</text></g>
<g id="r341" class="r" transform="translate(957,418)"><circle r="9.8"/><text y="5.9">I</text></g>
<g id="r342" class="r" transform="translate(957,394)"><circle r="9.8"/><text y="5.9">A</text></g>
<g id="r343" class="r" transform="translate(957,370)"><circle r="9.8"/><text y="5.9">I</text></g>
<g id="r344" class="r" transform="translate(957,347)"><circle r="9.8"/><text y="5.9">M</text></g>
<g id="r345" class="r" transform="translate(957,323)"><circle r="9.8"/><text y="5.9">F</text></g>
<g id="r346" class="r" transform="translate(956,300)"><circle r="9.8"/><text y="5.9">A</text></g>
<g id="r347" class="r" transform="translate(982,431)"><circle r="9.8"/><text y="5.9">A</text></g>
<g id="r348" class="r" transform="translate(982,408)"><circle r="9.8"/><text y="5.9">G</text></g>
<g id="r349" class="r" transform="translate(982,384)"><circle r="9.8"/><text y="5.9">F</text></g>
<g id="r350" class="r" transform="translate(982,360)"><circle r="9.8"/><text y="5.9">L</text></g>
<g id="r351" class="r" transform="translate(982,334)"><circle r="9.8"/><text y="5.9">V</text></g>
<g id="r352" class="r" transform="translate(980,311)"><circle r="9.8"/><text y="5.9">A</text></g>
<g id="r353" class="r" transform="translate(980,288)"><circle r="9.8"/><text y="5.9">T</text></g>
<g id="r354" class="r" transform="translate(1004,280)"><circle r="9.8"/><text y="5.9">I</text></g>
<g id="r355" class="r" transform="translate(1008,259)"><circle r="9.8"/><text y="5.9">T</text></g>
<g id="r356" class="r" transform="translate(1015,241)"><circle r="9.8"/><text y="5.9">P</text></g>
<g id="r357" class="r" transform="translate(1033,227)"><circle r="9.8"/><text y="5.9">L</text></g>
<g id="r358" class="r" transform="translate(1048,243)"><circle r="9.8"/><text y="5.9">M</text></g>
<g id="r359" class="r" transform="translate(1062,262)"><circle r="9.8"/><text y="5.9">F</text></g>
<g id="r360" class="r" transform="translate(1090,285)"><circle r="9.8"/><text y="5.9">T</text></g>
<g id="r361" class="r" transform="translate(1090,310)"><circle r="9.8"/><text y="5.9">G</text></g>
<g id="r362" class="r" transform="translate(1090,333)"><circle r="9.8"/><text y="5.9">F</text></g>
<g id="r363" class="r" transform="translate(1090,358)"><circle r="9.8"/><text y="5.9">L</text></g>
<g id="r364" class="r" transform="translate(1090,382)"><circle r="9.8"/><text y="5.9">T</text></g>
<g id="r365" class="r" transform="translate(1090,405)"><circle r="9.8"/><text y="5.9">I</text></g>
<g id="r366" class="r" transform="translate(1091,430)"><circle r="9.8"/><text y="5.9">K</text></g>
<g id="r367" class="r" transform="translate(1066,295)"><circle r="9.8"/><text y="5.9">G</text></g>
<g id="r368" class="r" transform="translate(1067,318)"><circle r="9.8"/><text y="5.9">L</text></g>
<g id="r369" class="r" transform="translate(1067,342)"><circle r="9.8"/><text y="5.9">L</text></g>
<g id="r370" class="r" transform="translate(1067,368)"><circle r="9.8"/><text y="5.9">V</text></g>
<g id="r371" class="r" transform="translate(1067,392)"><circle r="9.8"/><text y="5.9">P</text></g>
<g id="r372" class="r bl" transform="translate(1070,417)"><circle r="9.8"/><text y="5.9">R</text></g>
<g id="r373" class="r" transform="translate(1069,442)"><circle r="9.8"/><text y="5.9">L</text></g>
<g id="r374" class="r" transform="translate(1040,304)"><circle r="9.8"/><text y="5.9">Y</text></g>
<g id="r375" class="r" transform="translate(1042,328)"><circle r="9.8"/><text y="5.9">L</text></g>
<g id="r376" class="r" transform="translate(1042,352)"><circle r="9.8"/><text y="5.9">S</text></g>
<g id="r377" class="r" transform="translate(1043,377)"><circle r="9.8"/><text y="5.9">I</text></g>
<g id="r378" class="r" transform="translate(1043,402)"><circle r="9.8"/><text y="5.9">V</text></g>
<g id="r379" class="r" transform="translate(1043,427)"><circle r="9.8"/><text y="5.9">A</text></g>
<g id="r380" class="r" transform="translate(1045,452)"><circle r="9.8"/><text y="5.9">S</text></g>
<g id="r381" class="r" transform="translate(1062,473)"><circle r="9.8"/><text y="5.9">K</text></g>
<g id="r382" class="r" transform="translate(1062,494)"><circle r="9.8"/><text y="5.9">L</text></g>
<g id="r383" class="r" transform="translate(1063,516)"><circle r="9.8"/><text y="5.9">V</text></g>
<g id="r384" class="r" transform="translate(1075,535)"><circle r="9.8"/><text y="5.9">R</text></g>
<g id="r385" class="r" transform="translate(1097,540)"><circle r="9.8"/><text y="5.9">E</text></g>
<g id="r386" class="r" transform="translate(1117,535)"><circle r="9.8"/><text y="5.9">T</text></g>
<g id="r387" class="r" transform="translate(1132,518)"><circle r="9.8"/><text y="5.9">E</text></g>
<g id="r388" class="r" transform="translate(1139,498)"><circle r="9.8"/><text y="5.9">Q</text></g>
<g id="r389" class="r" transform="translate(1145,477)"><circle r="9.8"/><text y="5.9">G</text></g>
<g id="r390" class="r" transform="translate(1158,457)"><circle r="9.8"/><text y="5.9">A</text></g>
<g id="r391" class="r" transform="translate(1157,433)"><circle r="9.8"/><text y="5.9">S</text></g>
<g id="r392" class="r" transform="translate(1155,409)"><circle r="9.8"/><text y="5.9">A</text></g>
<g id="r393" class="r" transform="translate(1155,385)"><circle r="9.8"/><text y="5.9">N</text></g>
<g id="r394" class="r" transform="translate(1154,361)"><circle r="9.8"/><text y="5.9">A</text></g>
<g id="r395" class="r" transform="translate(1154,337)"><circle r="9.8"/><text y="5.9">T</text></g>
<g id="r396" class="r" transform="translate(1154,313)"><circle r="9.8"/><text y="5.9">G</text></g>
<g id="r397" class="r" transform="translate(1183,448)"><circle r="9.8"/><text y="5.9">L</text></g>
<g id="r398" class="r" transform="translate(1183,424)"><circle r="9.8"/><text y="5.9">A</text></g>
<g id="r399" class="r" transform="translate(1183,398)"><circle r="9.8"/><text y="5.9">C</text></g>
<g id="r400" class="r" transform="translate(1182,374)"><circle r="9.8"/><text y="5.9">S</text></g>
<g id="r401" class="r" transform="translate(1180,348)"><circle r="9.8"/><text y="5.9">M</text></g>
<g id="r402" class="r" transform="translate(1179,324)"><circle r="9.8"/><text y="5.9">A</text></g>
<g id="r403" class="r" transform="translate(1179,302)"><circle r="9.8"/><text y="5.9">I</text></g>
<g id="r404" class="r" transform="translate(1208,440)"><circle r="9.8"/><text y="5.9">F</text></g>
<g id="r405" class="r" transform="translate(1207,417)"><circle r="9.8"/><text y="5.9">V</text></g>
<g id="r406" class="r" transform="translate(1206,388)"><circle r="9.8"/><text y="5.9">V</text></g>
<g id="r407" class="r" transform="translate(1205,363)"><circle r="9.8"/><text y="5.9">L</text></g>
<g id="r408" class="r" transform="translate(1205,338)"><circle r="9.8"/><text y="5.9">L</text></g>
<g id="r409" class="r" transform="translate(1205,312)"><circle r="9.8"/><text y="5.9">S</text></g>
<g id="r410" class="r" transform="translate(1205,288)"><circle r="9.8"/><text y="5.9">F</text></g>
<g id="r411" class="r" transform="translate(1186,277)"><circle r="9.8"/><text y="5.9">N</text></g>
<g id="r412" class="r" transform="translate(1203,263)"><circle r="9.8"/><text y="5.9">S</text></g>
<g id="r413" class="r" transform="translate(1205,243)"><circle r="9.8"/><text y="5.9">L</text></g>
<g id="r414" class="r" transform="translate(1197,222)"><circle r="9.8"/><text y="5.9">Y</text></g>
<g id="r415" class="r" transform="translate(1192,202)"><circle r="9.8"/><text y="5.9">P</text></g>
<g id="r416" class="r" transform="translate(1193,182)"><circle r="9.8"/><text y="5.9">A</text></g>
<g id="r417" class="r" transform="translate(1199,162)"><circle r="9.8"/><text y="5.9">T</text></g>
<g id="r418" class="r" transform="translate(1217,147)"><circle r="9.8"/><text y="5.9">L</text></g>
<g id="r419" class="r" transform="translate(1237,145)"><circle r="9.8"/><text y="5.9">N</text></g>
<g id="r420" class="r" transform="translate(1258,152)"><circle r="9.8"/><text y="5.9">F</text></g>
<g id="r421" class="r" transform="translate(1276,168)"><circle r="9.8"/><text y="5.9">M</text></g>
<g id="r422" class="r" transform="translate(1283,188)"><circle r="9.8"/><text y="5.9">K</text></g>
<g id="r423" class="r" transform="translate(1285,209)"><circle r="9.8"/><text y="5.9">G</text></g>
<g id="r424" class="r" transform="translate(1285,230)"><circle r="9.8"/><text y="5.9">F</text></g>
<g id="r425" class="r bl" transform="translate(1285,253)"><circle r="9.8"/><text y="5.9">P</text></g>
<g id="r426" class="r" transform="translate(1281,274)"><circle r="9.8"/><text y="5.9">F</text></g>
<g id="r427" class="r" transform="translate(1283,298)"><circle r="9.8"/><text y="5.9">G</text></g>
<g id="r428" class="r" transform="translate(1283,321)"><circle r="9.8"/><text y="5.9">L</text></g>
<g id="r429" class="r" transform="translate(1285,345)"><circle r="9.8"/><text y="5.9">I</text></g>
<g id="r430" class="r" transform="translate(1287,370)"><circle r="9.8"/><text y="5.9">V</text></g>
<g id="r431" class="r" transform="translate(1287,397)"><circle r="9.8"/><text y="5.9">G</text></g>
<g id="r432" class="r" transform="translate(1287,418)"><circle r="9.8"/><text y="5.9">E</text></g>
<g id="r433" class="r" transform="translate(1290,442)"><circle r="9.8"/><text y="5.9">D</text></g>
<g id="r434" class="r" transform="translate(1272,454)"><circle r="9.8"/><text y="5.9">P</text></g>
<g id="r435" class="r" transform="translate(1307,288)"><circle r="9.8"/><text y="5.9">L</text></g>
<g id="r436" class="r" transform="translate(1309,313)"><circle r="9.8"/><text y="5.9">G</text></g>
<g id="r437" class="r" transform="translate(1310,337)"><circle r="9.8"/><text y="5.9">L</text></g>
<g id="r438" class="r" transform="translate(1312,362)"><circle r="9.8"/><text y="5.9">A</text></g>
<g id="r439" class="r" transform="translate(1312,387)"><circle r="9.8"/><text y="5.9">I</text></g>
<g id="r440" class="r" transform="translate(1313,410)"><circle r="9.8"/><text y="5.9">L</text></g>
<g id="r441" class="r" transform="translate(1315,433)"><circle r="9.8"/><text y="5.9">A</text></g>
<g id="r442" class="r" transform="translate(1332,280)"><circle r="9.8"/><text y="5.9">L</text></g>
<g id="r443" class="r" transform="translate(1332,305)"><circle r="9.8"/><text y="5.9">A</text></g>
<g id="r444" class="r" transform="translate(1333,328)"><circle r="9.8"/><text y="5.9">L</text></g>
<g id="r445" class="r" transform="translate(1333,353)"><circle r="9.8"/><text y="5.9">P</text></g>
<g id="r446" class="r" transform="translate(1335,378)"><circle r="9.8"/><text y="5.9">L</text></g>
<g id="r447" class="r" transform="translate(1337,403)"><circle r="9.8"/><text y="5.9">M</text></g>
<g id="r448" class="r" transform="translate(1337,427)"><circle r="9.8"/><text y="5.9">K</text></g>
<g id="r449" class="r" transform="translate(1285,473)"><circle r="9.8"/><text y="5.9">H</text></g>
<g id="r450" class="r" transform="translate(1275,492)"><circle r="9.8"/><text y="5.9">L</text></g>
<g id="r451" class="r" transform="translate(1260,506)"><circle r="9.8"/><text y="5.9">E</text></g>
<g id="r452" class="r" transform="translate(1242,517)"><circle r="9.8"/><text y="5.9">F</text></g>
<g id="r453" class="r" transform="translate(1242,537)"><circle r="9.8"/><text y="5.9">Q</text></g>
<g id="r454" class="r" transform="translate(1260,550)"><circle r="9.8"/><text y="5.9">Q</text></g>
<g id="r455" class="r" transform="translate(1278,560)"><circle r="9.8"/><text y="5.9">F</text></g>
<g id="r456" class="r" transform="translate(1298,557)"><circle r="9.8"/><text y="5.9">P</text></g>
<g id="r457" class="r" transform="translate(1319,549)"><circle r="9.8"/><text y="5.9">Q</text></g>
<g id="r458" class="r" transform="translate(1340,543)"><circle r="9.8"/><text y="5.9">S</text></g>
<g id="r459" class="r" transform="translate(1362,540)"><circle r="9.8"/><text y="5.9">P</text></g>
</g>
</svg>
